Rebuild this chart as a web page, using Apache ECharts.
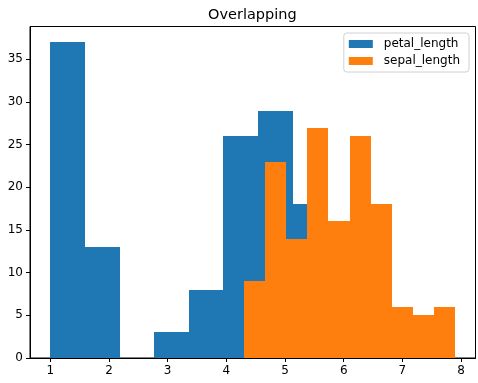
<!DOCTYPE html>
<html><head><meta charset="utf-8">
<script src="https://cdn.jsdelivr.net/npm/echarts@6/dist/echarts.min.js"></script>
<style>html,body{margin:0;padding:0;background:#fff}#c{width:478px;height:383px}</style>
</head><body><div id="c"></div>
<script>
const petalEdges = [1.0, 1.59, 2.18, 2.77, 3.36, 3.95, 4.54, 5.13, 5.72, 6.31, 6.9];
const petalCounts = [37, 13, 0, 3, 8, 26, 29, 18, 11, 5];
const sepalEdges = [4.3, 4.66, 5.02, 5.38, 5.74, 6.1, 6.46, 6.82, 7.18, 7.54, 7.9];
const sepalCounts = [9, 23, 14, 27, 16, 26, 18, 6, 5, 6];
const xTicks = [1, 2, 3, 4, 5, 6, 7, 8];
const yTicks = [0, 5, 10, 15, 20, 25, 30, 35];
const seriesNames = ['petal_length', 'sepal_length'];
const colors = ['#1f77b4', '#ff7f0e'];

function binData(edges, counts) {
  return counts.map((c, i) => [edges[i], edges[i + 1], c]);
}
function renderBin(params, api) {
  if (api.value(2) <= 0) return null;
  const p0 = api.coord([api.value(0), 0]);
  const p1 = api.coord([api.value(1), api.value(2)]);
  const x0 = Math.round(p0[0]), x1 = Math.round(p1[0]);
  const y1 = Math.round(p1[1]);
  const c = api.visual('color');
  return {
    type: 'rect',
    shape: { x: x0, y: y1, width: x1 - x0, height: p0[1] - y1 },
    style: { fill: c }
  };
}
const font = 'DejaVu Sans';
const chart = echarts.init(document.getElementById('c'), null, { renderer: 'canvas' });
chart.setOption({
  animation: false,
  textStyle: { fontFamily: font },
  title: { text: 'Overlapping', left: 203, top: 3, textStyle: { fontFamily: font, fontSize: 14.5, fontWeight: 'normal', color: '#000' } },
  grid: { left: 30, right: 2.5, top: 26.5, bottom: 25, show: true, borderColor: '#000', borderWidth: 1, backgroundColor: 'transparent' },
  legend: {
    orient: 'vertical', right: 9, top: 33,
    itemWidth: 24, itemHeight: 8, itemGap: 5,
    borderColor: '#d0d0d0', borderWidth: 1, borderRadius: 3, padding: [5, 9, 5, 5],
    textStyle: { fontFamily: font, fontSize: 12, color: '#000', padding: [0, 0, 0, 6] },
    data: seriesNames.map(n => ({ name: n, icon: 'rect' }))
  },
  xAxis: {
    type: 'value', min: 0.655, max: 8.245,
    axisLine: { show: true, onZero: false, lineStyle: { color: '#000' } },
    axisTick: { show: true, length: 4, lineStyle: { color: '#000' }, customValues: xTicks },
    axisLabel: { color: '#000', fontSize: 12, fontFamily: font, margin: 7, customValues: xTicks },
    splitLine: { show: false }
  },
  yAxis: {
    type: 'value', min: 0, max: 38.85,
    axisLine: { show: true, lineStyle: { color: '#000' } },
    axisTick: { show: true, length: 4, lineStyle: { color: '#000' }, customValues: yTicks },
    axisLabel: { color: '#000', fontSize: 12, fontFamily: font, margin: 7, customValues: yTicks },
    splitLine: { show: false }
  },
  series: [
    { name: seriesNames[0], type: 'custom', renderItem: renderBin, itemStyle: { color: colors[0] }, encode: { x: [0, 1], y: 2 }, data: binData(petalEdges, petalCounts) },
    { name: seriesNames[1], type: 'custom', renderItem: renderBin, itemStyle: { color: colors[1] }, encode: { x: [0, 1], y: 2 }, data: binData(sepalEdges, sepalCounts) }
  ]
});
</script></body></html>
